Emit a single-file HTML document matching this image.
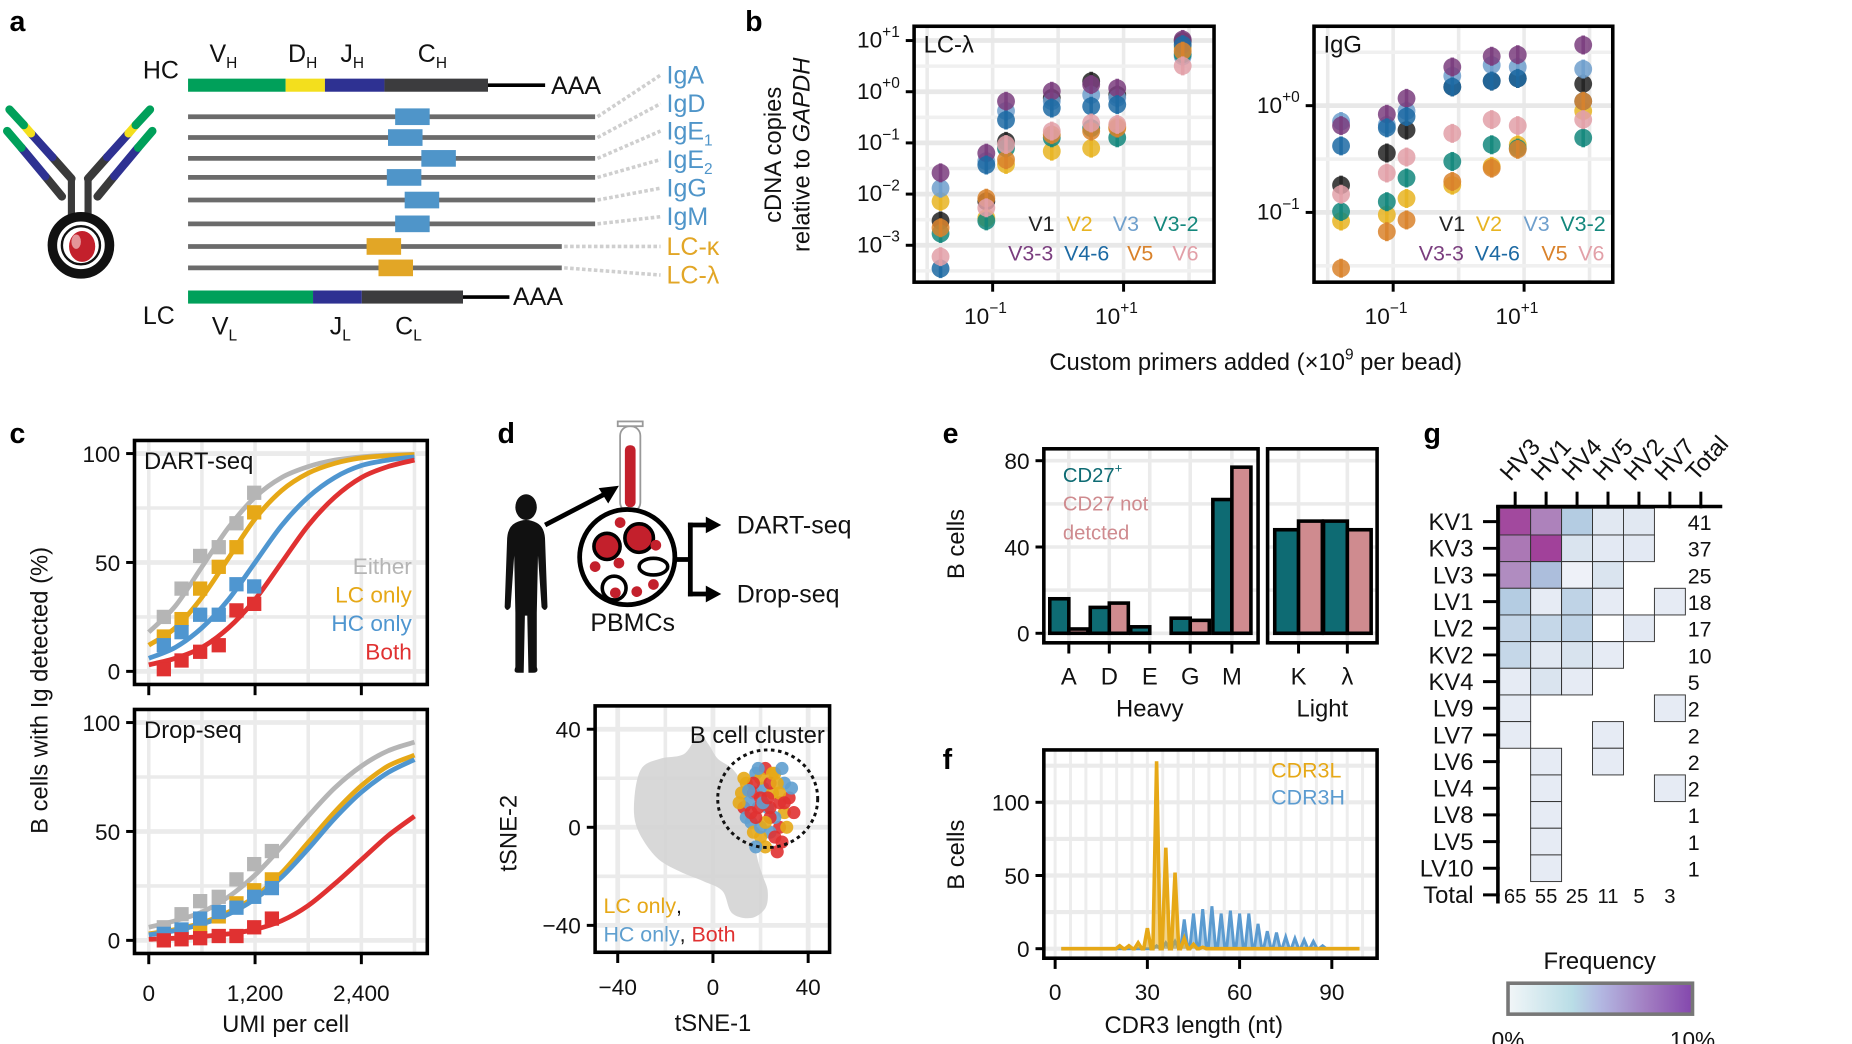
<!DOCTYPE html>
<html><head><meta charset="utf-8"><style>
html,body{margin:0;padding:0;background:#fff;}
svg{display:block;font-family:"Liberation Sans",Arial,sans-serif;fill:#111;font-size:19px;}
.h{font-size:24px;font-weight:bold;fill:#000;}
</style></head><body>
<svg id="fig" width="1852" height="1044" viewBox="0 0 1556 877" xmlns="http://www.w3.org/2000/svg">
<rect x="0" y="0" width="1556" height="877" fill="#fff"/>
<text class="h" x="8" y="26">a</text>
<text class="h" x="626" y="26">b</text>
<text class="h" x="8" y="372">c</text>
<text class="h" x="418" y="372">d</text>
<text class="h" x="792" y="372">e</text>
<text class="h" x="792" y="646">f</text>
<text class="h" x="1196" y="372">g</text>

<g id="pa">
<text class="t" x="120" y="66" font-size="21">HC</text>
<text class="t" x="176" y="52" font-size="21">V<tspan font-size="13" dy="5">H</tspan></text>
<text class="t" x="242" y="52" font-size="21">D<tspan font-size="13" dy="5">H</tspan></text>
<text class="t" x="286" y="52" font-size="21">J<tspan font-size="13" dy="5">H</tspan></text>
<text class="t" x="351" y="52" font-size="21">C<tspan font-size="13" dy="5">H</tspan></text>
<rect x="158" y="66" width="82" height="11" fill="#00a05a"/>
<rect x="240" y="66" width="33" height="11" fill="#f3df1d"/>
<rect x="273" y="66" width="50" height="11" fill="#2e3192"/>
<rect x="323" y="66" width="87" height="11" fill="#3c3c3e"/>
<line x1="410" y1="71.5" x2="458" y2="71.5" stroke="#000" stroke-width="3"/>
<text class="t" x="463" y="79" font-size="21">AAA</text>
<rect x="158" y="244" width="105" height="11" fill="#00a05a"/>
<rect x="263" y="244" width="41" height="11" fill="#2e3192"/>
<rect x="304" y="244" width="85" height="11" fill="#3c3c3e"/>
<line x1="389" y1="249.5" x2="428" y2="249.5" stroke="#000" stroke-width="3"/>
<text class="t" x="431" y="256" font-size="21">AAA</text>
<text class="t" x="120" y="272" font-size="21">LC</text>
<text class="t" x="178" y="281" font-size="21">V<tspan font-size="13" dy="5">L</tspan></text>
<text class="t" x="277" y="281" font-size="21">J<tspan font-size="13" dy="5">L</tspan></text>
<text class="t" x="332" y="281" font-size="21">C<tspan font-size="13" dy="5">L</tspan></text>
<g stroke-linecap="round" fill="none">
<line x1="60" y1="150" x2="60" y2="196" stroke="#3a3a3a" stroke-width="6"/>
<line x1="74" y1="150" x2="74" y2="196" stroke="#3a3a3a" stroke-width="6"/>
<polyline points="60,150 44,132" stroke="#3a3a3a" stroke-width="7"/>
<polyline points="44,132 26,112" stroke="#2e3192" stroke-width="7"/>
<polyline points="26,112 20,105" stroke="#f3df1d" stroke-width="7"/>
<polyline points="20,105 8,92" stroke="#00a05a" stroke-width="7"/>
<polyline points="52,165 38,148" stroke="#3a3a3a" stroke-width="7"/>
<polyline points="38,148 18,124" stroke="#2e3192" stroke-width="7"/>
<polyline points="18,124 6,110" stroke="#00a05a" stroke-width="7"/>
<polyline points="74,150 90,132" stroke="#3a3a3a" stroke-width="7"/>
<polyline points="90,132 108,112" stroke="#2e3192" stroke-width="7"/>
<polyline points="108,112 114,105" stroke="#f3df1d" stroke-width="7"/>
<polyline points="114,105 126,92" stroke="#00a05a" stroke-width="7"/>
<polyline points="82,165 96,148" stroke="#3a3a3a" stroke-width="7"/>
<polyline points="96,148 116,124" stroke="#2e3192" stroke-width="7"/>
<polyline points="116,124 128,110" stroke="#00a05a" stroke-width="7"/>
<circle cx="68" cy="206" r="24" stroke="#111" stroke-width="8" fill="#fff"/>
<circle cx="68" cy="206" r="16" stroke="#111" stroke-width="2"/>
<ellipse cx="69" cy="207" rx="11" ry="13" fill="#c3202c" stroke="none"/>
<ellipse cx="64" cy="203" rx="4" ry="6" fill="#f2c6c8" stroke="none" opacity="0.7"/>
</g>
</g>
<g id="pb"></g>
<g id="pc"></g>
<g id="pd">
<g fill="#111" transform="translate(442,426) scale(1,1.2) translate(-446,-456)">
<circle cx="446" cy="456" r="9"/>
<path d="M437,467 Q446,463 455,467 Q462,470 462,480 L464,526 Q462,530 459,526 L456,490 L455,530 L455,568 Q457,572 452,572 L448,572 L447,532 L445,532 L444,572 L439,572 Q435,572 437,568 L437,530 L436,490 L433,526 Q430,530 428,526 L430,480 Q430,470 437,467 Z"/>
</g>
<line x1="458" y1="441" x2="510" y2="414" stroke="#000" stroke-width="4"/>
<polygon points="520,408 503,410 511,423" fill="#000"/>
<rect x="521" y="358" width="17" height="72" rx="8" fill="#fff" stroke="#999" stroke-width="1.5"/>
<rect x="519" y="354" width="21" height="4" fill="#fff" stroke="#999" stroke-width="1.5"/>
<rect x="525" y="374" width="9" height="52" rx="4" fill="#c3202c"/>
<line x1="526" y1="428" x2="497" y2="446" stroke="#000" stroke-width="2.5" stroke-dasharray="2,2"/>
<line x1="533" y1="428" x2="560" y2="446" stroke="#000" stroke-width="2.5" stroke-dasharray="2,2"/>
<g>
<circle cx="527" cy="468" r="40" fill="#fff" stroke="#000" stroke-width="4"/>
<circle cx="510" cy="459" r="11" fill="#c3202c" stroke="#000" stroke-width="3"/>
<circle cx="537" cy="452" r="12" fill="#c3202c" stroke="#000" stroke-width="3"/>
<circle cx="516" cy="494" r="10" fill="none" stroke="#000" stroke-width="3"/>
<circle cx="517" cy="498" r="4.5" fill="#c3202c"/>
<circle cx="521" cy="439" r="4.5" fill="#c3202c"/>
<circle cx="551" cy="458" r="4.5" fill="#c3202c"/>
<circle cx="500" cy="476" r="4.5" fill="#c3202c"/>
<circle cx="520" cy="473" r="4.5" fill="#c3202c"/>
<circle cx="535" cy="497" r="4.5" fill="#c3202c"/>
<circle cx="549" cy="491" r="4.5" fill="#c3202c"/>
<ellipse cx="549" cy="476" rx="12" ry="7" fill="#fff" stroke="#000" stroke-width="3"/>
</g>
<polyline points="567,470 580,470" stroke="#000" stroke-width="4" fill="none"/>
<polyline points="580,439 580,501" stroke="#000" stroke-width="4" fill="none"/>
<polyline points="578,441 596,441" stroke="#000" stroke-width="4" fill="none"/>
<polyline points="578,499 596,499" stroke="#000" stroke-width="4" fill="none"/>
<polygon points="606,441 593,434 593,448" fill="#000"/>
<polygon points="606,499 593,492 593,506" fill="#000"/>
<text x="619" y="448" font-size="21">DART-seq</text>
<text x="619" y="506" font-size="21">Drop-seq</text>
<text x="496" y="530" font-size="21">PBMCs</text>
</g>
<g id="pe"></g>
<g id="pf"></g>
<g id="pg"></g>
</svg>
<script>
const NS='http://www.w3.org/2000/svg';
function mk(tag,attrs,parent){const e=document.createElementNS(NS,tag);for(const k in attrs)e.setAttribute(k,attrs[k]);parent.appendChild(e);return e;}
function txt(parent,x,y,s,attrs){const e=mk('text',Object.assign({x:x,y:y},attrs||{}),parent);e.textContent=s;return e;}

/* ===== Panel a data ===== */
const isoNames=['IgA','IgD','IgE','IgE','IgG','IgM','LC-κ','LC-λ'];
const isoSubs=['','','1','2','','','',''];
const isoLineY=[98,115.5,133,149,168,188,207,225];
const isoBoxX=[332,326,354,325,340,332,308,318];
const isoLineEnd=[500,500,500,500,500,500,472,472];
const isoLabelY=[70,94,117,141,165,189,214,238];
const pa=document.getElementById('pa');
isoNames.forEach(function(n,i){
  const col=i<6?'#4f95c9':'#e2a626';
  const l=mk('line',{x1:158,y1:isoLineY[i],x2:isoLineEnd[i],y2:isoLineY[i],stroke:'#6b6b6b','stroke-width':4},pa);
  
  
  const b=mk('rect',{x:isoBoxX[i],y:isoLineY[i]-7,width:29,height:14,fill:col},pa);
  
  
  const d=mk('line',{x1:isoLineEnd[i]+2,y1:isoLineY[i],x2:555,y2:isoLabelY[i]-7,stroke:'#cfcfcf','stroke-width':3,'stroke-dasharray':'3,2'},pa);
  
  
  const t=txt(pa,560,isoLabelY[i],n,{'font-size':21,fill:col});
  if(isoSubs[i]){const s=document.createElementNS(NS,'tspan');s.setAttribute('font-size','13');s.setAttribute('dy','5');s.textContent=isoSubs[i];t.appendChild(s);}
  
  
});

/* ===== Panel b data ===== */
const primerAmounts=[0.016,0.08,0.16,0.8,3.2,8,80];
const seriesNames=['V1','V2','V3','V3-2','V3-3','V4-6','V5','V6'];
const seriesColors=['#222222','#e8b422','#6f9fcc','#13877c','#7a3d7e','#1d6aa3','#d9822b','#e2a0a8'];
const lcV1=[0.003,0.0072,0.107,0.76,1.6,0.87,9.8];
const lcV2=[0.0072,0.0034,0.038,0.069,0.079,0.21,7.2];
const lcV3=[0.013,0.044,0.42,0.65,0.87,0.76,4.9];
const lcV32=[0.0017,0.003,0.079,0.126,0.195,0.126,5.4];
const lcV33=[0.026,0.063,0.65,1.02,1.38,1.17,10.5];
const lcV46=[0.00035,0.037,0.28,0.48,0.52,0.56,8.3];
const lcV5=[0.0022,0.0083,0.047,0.145,0.17,0.195,6.2];
const lcV6=[0.0006,0.0054,0.093,0.17,0.245,0.23,3.2];
const igV1=[0.18,0.36,0.59,1.5,1.7,1.8,1.6];
const igV2=[0.083,0.095,0.135,0.18,0.27,0.43,0.89];
const igV3=[0.71,0.66,0.89,1.9,2.4,2.3,2.2];
const igV32=[0.102,0.126,0.21,0.3,0.43,0.4,0.5];
const igV33=[0.65,0.83,1.17,2.3,2.9,3.0,3.7];
const igV46=[0.42,0.62,0.79,1.5,1.7,1.8,1.1];
const igV5=[0.03,0.066,0.085,0.195,0.26,0.39,1.1];
const igV6=[0.148,0.234,0.33,0.55,0.74,0.65,0.74];
const lcSeries=[lcV1,lcV2,lcV3,lcV32,lcV33,lcV46,lcV5,lcV6];
const igSeries=[igV1,igV2,igV3,igV32,igV33,igV46,igV5,igV6];
const pb=document.getElementById('pb');
function lg(v){return Math.log10(v);}
function drawLogPanel(box,xTick0,yOf,yTicks,series,title,legX1,legX2,name){
  const g=mk('g',{},pb);
  
  
  const xOf=function(v){return xTick0+(lg(v)+1)*55;};
  for(let e=-2;e<=2;e++){const x=xOf(Math.pow(10,e));if(x>box.x&&x<box.x+box.w){const gl=mk('line',{x1:x,y1:box.y,x2:x,y2:box.y+box.h,stroke:'#ebebeb','stroke-width':3},g);}}
  for(let e=-4;e<=2;e+=0.5){const y=yOf(Math.pow(10,e));if(y>box.y&&y<box.y+box.h){const gl=mk('line',{x1:box.x,y1:y,x2:box.x+box.w,y2:y,stroke:Number.isInteger(e)?'#e8e8e8':'#f0f0f0','stroke-width':Number.isInteger(e)?4:3},g);}}
  series.forEach(function(arr,si){arr.forEach(function(v,i){
    const cx=xOf(primerAmounts[i]),cy=yOf(v);
    const eb=mk('line',{x1:cx,y1:cy-8,x2:cx,y2:cy+8,stroke:seriesColors[si],'stroke-width':3,opacity:0.85},g);
    
    
    const c=mk('circle',{cx:cx,cy:cy,r:7.5,fill:seriesColors[si],opacity:0.85},g);
    
    
  });});
  const r=mk('rect',{x:box.x,y:box.y,width:box.w,height:box.h,fill:'none',stroke:'#000','stroke-width':3},g);
  
  
  yTicks.forEach(function(tk){const y=yOf(Math.pow(10,tk.e));
    const tl=mk('line',{x1:box.x-7,y1:y,x2:box.x,y2:y,stroke:'#000','stroke-width':2.5},g);
    
    
    const t=txt(g,box.x-12,y+6,'10',{'text-anchor':'end','font-size':19});
    const s=document.createElementNS(NS,'tspan');s.setAttribute('font-size','13');s.setAttribute('dy','-9');s.textContent=tk.l;t.appendChild(s);
    
    
  });
  [{e:-1,l:'−1'},{e:1,l:'+1'}].forEach(function(tk){const x=xOf(Math.pow(10,tk.e));
    const tl=mk('line',{x1:x,y1:box.y+box.h,x2:x,y2:box.y+box.h+8,stroke:'#000','stroke-width':2.5},g);
    
    
    const t=txt(g,x-6,box.y+box.h+35,'10',{'text-anchor':'middle','font-size':19});
    const s=document.createElementNS(NS,'tspan');s.setAttribute('font-size','13');s.setAttribute('dy','-9');s.textContent=tk.l;t.appendChild(s);
    
    
  });
  const tt=txt(g,box.x+8,box.y+22,title,{'font-size':20});
  
  
  seriesNames.forEach(function(n,i){const x=(i<4?legX1:legX2)[i%4];const y=i<4?194:219;
    const t=txt(g,x,y,n,{'font-size':18,fill:seriesColors[i]});
    
    
  });
}
drawLogPanel({x:768,y:22,w:252,h:215},834,function(v){return 34+(1-lg(v))*43;},
  [{e:1,l:'+1'},{e:0,l:'+0'},{e:-1,l:'−1'},{e:-2,l:'−2'},{e:-3,l:'−3'}],lcSeries,'LC-λ',
  [864,896,935,969],[847,894,947,985],'lc-lambda-plot');
drawLogPanel({x:1104,y:22,w:251,h:215},1170.5,function(v){return 88.7-lg(v)*89.7;},
  [{e:0,l:'+0'},{e:-1,l:'−1'}],igSeries,'IgG',
  [1209,1240,1280,1311],[1192,1239,1295,1326],'igg-plot');
(function(){
  const t=txt(pb,1055,311,'Custom primers added (×10',{'text-anchor':'middle','font-size':20});
  const s=document.createElementNS(NS,'tspan');s.setAttribute('font-size','13');s.setAttribute('dy','-9');s.textContent='9';t.appendChild(s);
  const s2=document.createElementNS(NS,'tspan');s2.setAttribute('dy','9');s2.textContent=' per bead)';t.appendChild(s2);
  
  
  const y1=txt(pb,0,0,'cDNA copies',{'text-anchor':'middle','font-size':20,transform:'translate(656,130) rotate(-90)'});
  
  
  const y2=txt(pb,0,0,'relative to ',{'text-anchor':'middle','font-size':20,transform:'translate(680,130) rotate(-90)'});
  const s3=document.createElementNS(NS,'tspan');s3.setAttribute('font-style','italic');s3.textContent='GAPDH';y2.appendChild(s3);
  
  
})();

/* ===== Panel c data ===== */
const curveUMI=[0,300,600,900,1200,1500,1800,2100,2400,2700,3000];
const dartEither=[18,30,48,66,80,89,94,97,98.5,99.3,99.7];
const dartLC=[12,20,34,52,70,83,91,95.5,98,99,99.5];
const dartHC=[6,11,20,33,50,67,80,89,94.5,97,98.5];
const dartBoth=[3,6,11,20,33,50,67,80,89,94,97];
const dropEither=[6,9,13,20,30,43,57,70,80,87,91];
const dropLC=[3,5,8,13,20,31,45,59,71,80,85];
const dropHC=[2.5,4.5,7.5,12,19,29,42,56,68,77,83];
const dropBoth=[0.5,1,1.8,3,5,9,16,26,37,48,57];
const dartBinUMI=[170,370,580,790,990,1190];
const dartPtsEither=[25,38,53,57,68,82];
const dartPtsLC=[16,24,38,48,57,73];
const dartPtsHC=[12,18,26,26,40,39];
const dartPtsBoth=[1,5,9,12,28,31];
const dropBinUMI=[170,370,580,790,990,1190,1390];
const dropPtsEither=[6,12,18,20,28,35,41];
const dropPtsLC=[2,4,6,11,17,23,28];
const dropPtsHC=[3,5,10,13,15,20,24];
const dropPtsBoth=[0,0.5,1,2,2,6,10];
const groupNames=['Either','LC only','HC only','Both'];
const groupColors=['#b5b5b5','#e6a817','#4f96d0','#e03131'];
const xTickUMI=[0,1200,2400];
const xTickUMILabels=['0','1,200','2,400'];
const pctTicks=[0,50,100];
const pc=document.getElementById('pc');
function cx(u){return 125+u/1200*89.3;}
function smoothPath(pts,closed){let d='M'+pts[0][0]+','+pts[0][1];const n=pts.length;const get=function(i){if(closed)return pts[(i+n)%n];return pts[Math.max(0,Math.min(n-1,i))];};const last=closed?n:n-1;
  for(let i=0;i<last;i++){const p0=get(i-1),p1=get(i),p2=get(i+1),p3=get(i+2);
  d+=' C'+(p1[0]+(p2[0]-p0[0])/6)+','+(p1[1]+(p2[1]-p0[1])/6)+' '+(p2[0]-(p3[0]-p1[0])/6)+','+(p2[1]-(p3[1]-p1[1])/6)+' '+p2[0]+','+p2[1];}return d+(closed?' Z':'');}
function drawCurvePanel(top,title,curves,bins,pts,name,showLabels,showLegend){
  const g=mk('g',{},pc);
  
  
  const box={x:113,y:top,w:246,h:205};
  const yOf=function(p){return top+11+(100-p)*1.83;};
  [0,600,1200,1800,2400,3000].forEach(function(u){const gl=mk('line',{x1:cx(u),y1:box.y,x2:cx(u),y2:box.y+box.h,stroke:'#ebebeb','stroke-width':3},g);});
  [0,25,50,75,100].forEach(function(p){const gl=mk('line',{x1:box.x,y1:yOf(p),x2:box.x+box.w,y2:yOf(p),stroke:'#ebebeb','stroke-width':p%50===0?4:3},g);});
  curves.forEach(function(c,ci){
    const p=mk('path',{d:smoothPath(curveUMI.map(function(u,i){return [cx(u),yOf(c[i])];}),false),fill:'none',stroke:groupColors[ci],'stroke-width':4},g);
    
    
  });
  pts.forEach(function(arr,ci){arr.forEach(function(v,i){
    const r=mk('rect',{x:cx(bins[i])-6,y:yOf(v)-6,width:12,height:12,fill:groupColors[ci]},g);
    
    
  });});
  const fr=mk('rect',{x:box.x,y:box.y,width:box.w,height:box.h,fill:'none',stroke:'#000','stroke-width':3},g);
  
  
  pctTicks.forEach(function(p){
    const tl=mk('line',{x1:box.x-7,y1:yOf(p),x2:box.x,y2:yOf(p),stroke:'#000','stroke-width':2.5},g);
    
    
    const t=txt(g,box.x-12,yOf(p)+7,String(p),{'text-anchor':'end','font-size':19});
    
    
  });
  xTickUMI.forEach(function(u,i){
    const tl=mk('line',{x1:cx(u),y1:box.y+box.h,x2:cx(u),y2:box.y+box.h+9,stroke:'#000','stroke-width':2.5},g);
    
    
    if(showLabels){const t=txt(g,cx(u),box.y+box.h+40,xTickUMILabels[i],{'text-anchor':'middle','font-size':19});
      
      }
  });
  const tt=txt(g,box.x+8,box.y+24,title,{'font-size':20});
  
  
  if(showLegend){groupNames.forEach(function(n,i){const t=txt(g,346,482+i*24,n,{'text-anchor':'end','font-size':19,fill:groupColors[i]});
    
    });}
}
drawCurvePanel(370,'DART-seq',[dartEither,dartLC,dartHC,dartBoth],dartBinUMI,[dartPtsEither,dartPtsLC,dartPtsHC,dartPtsBoth],'dart-seq-plot',false,true);
drawCurvePanel(596,'Drop-seq',[dropEither,dropLC,dropHC,dropBoth],dropBinUMI,[dropPtsEither,dropPtsLC,dropPtsHC,dropPtsBoth],'drop-seq-plot',true,false);
(function(){
  const t=txt(pc,240,867,'UMI per cell',{'text-anchor':'middle','font-size':20});
  
  
  const y=txt(pc,0,0,'B cells with Ig detected (%)',{'text-anchor':'middle','font-size':20,transform:'translate(40,580) rotate(-90)'});
  
  
})();

/* ===== Panel d tSNE data ===== */
const cloudX=[-33,-30,-22,-12,-6,-2,2,8,12,14,17,19,21,23,22,16,8,4,-4,-14,-24,-32];
const cloudY=[12,24,28,30,38,34,28,24,18,8,-4,-14,-20,-26,-33,-37,-35,-26,-22,-18,-12,0];
const bcX=[14,18,22,26,30,32,30,28,24,20,16,13,12,17,21,25,28,23,19,17,26,20,24,15,29,22,18,27,31,14,24,20,11,16,20,24,28,33,34,25,21,17,13,29,26,22,18,15,23,27,30,19];
const bcY=[18,22,24,22,18,12,6,0,-2,-4,2,8,14,14,16,14,10,8,8,-2,4,20,18,10,-6,-8,-8,-10,0,4,4,12,10,6,0,8,14,16,6,22,10,18,20,24,-4,2,4,15,12,18,10,24];
const bcGroup=[0,1,2,0,1,2,0,2,1,0,1,2,0,2,1,0,2,1,2,0,1,0,2,1,2,0,1,2,0,1,2,2,0,2,1,2,0,1,2,0,1,2,0,1,2,0,2,1,2,0,2,1];
const bcColors=['#e6a817','#5f9fcf','#e03131'];
const tsneTicks=[-40,0,40];
const pd=document.getElementById('pd');
function tx(v){return 599+v*2.0;}
function ty(v){return 695-v*2.06;}
(function(){
  const g=mk('g',{},pd);
  
  
  const box={x:500,y:593,w:197,h:207};
  [-40,-20,0,20,40].forEach(function(v){
    const a=mk('line',{x1:tx(v),y1:box.y,x2:tx(v),y2:box.y+box.h,stroke:'#ebebeb','stroke-width':v%40===0?4:3},g);
    
    
    const b=mk('line',{x1:box.x,y1:ty(v),x2:box.x+box.w,y2:ty(v),stroke:'#ebebeb','stroke-width':v%40===0?4:3},g);
    
    
  });
  const cl=mk('path',{d:smoothPath(cloudX.map(function(x,i){return [tx(x),ty(cloudY[i])];}),true),fill:'#d4d4d4',opacity:0.9},g);
  
  
  bcX.forEach(function(x,i){const c=mk('circle',{cx:tx(x),cy:ty(bcY[i]),r:5.5,fill:bcColors[bcGroup[i]],opacity:0.9},g);
    
    });
  const e=mk('ellipse',{cx:645,cy:671,rx:42,ry:41,fill:'none',stroke:'#111','stroke-width':2.5,'stroke-dasharray':'3,3'},g);
  
  
  const fr=mk('rect',{x:box.x,y:box.y,width:box.w,height:box.h,fill:'none',stroke:'#000','stroke-width':3},g);
  
  
  tsneTicks.forEach(function(v){
    const a=mk('line',{x1:tx(v),y1:box.y+box.h,x2:tx(v),y2:box.y+box.h+9,stroke:'#000','stroke-width':2.5},g);
    
    
    const t1=txt(g,tx(v),box.y+box.h+36,v<0?'−'+Math.abs(v):String(v),{'text-anchor':'middle','font-size':19});
    
    
    const b=mk('line',{x1:box.x-7,y1:ty(v),x2:box.x,y2:ty(v),stroke:'#000','stroke-width':2.5},g);
    
    
    const t2=txt(g,box.x-12,ty(v)+7,v<0?'−'+Math.abs(v):String(v),{'text-anchor':'end','font-size':19});
    
    
  });
  const t=txt(g,693,624,'B cell cluster',{'text-anchor':'end','font-size':20});
  
  
  const l1=txt(g,507,767,'LC only',{'font-size':18,fill:'#e6a817'});
  
  
  const c1=document.createElementNS(NS,'tspan');c1.setAttribute('fill','#111');c1.textContent=',';l1.appendChild(c1);
  const l2=txt(g,507,791,'HC only',{'font-size':18,fill:'#5f9fcf'});
  
  
  const c2=document.createElementNS(NS,'tspan');c2.setAttribute('fill','#111');c2.textContent=', ';l2.appendChild(c2);
  const c3=document.createElementNS(NS,'tspan');c3.setAttribute('fill','#e03131');c3.textContent='Both';l2.appendChild(c3);
  const xt=txt(g,599,866,'tSNE-1',{'text-anchor':'middle','font-size':20});
  
  
  const yt=txt(g,0,0,'tSNE-2',{'text-anchor':'middle','font-size':20,transform:'translate(434,700) rotate(-90)'});
  
  
})();

/* ===== Panel e data ===== */
const heavyCats=['A','D','E','G','M'];
const lightCats=['K','λ'];
const heavyCD27=[16,12,3,7,62];
const heavyNot=[2,14,0,6,77];
const lightCD27=[48,52];
const lightNot=[52,48];
const eTicks=[0,40,80];
const pe=document.getElementById('pe');
function ey(v){return 532-v*1.8125;}
(function(){
  const boxes=[{x:877,w:180,cats:heavyCats,a:heavyCD27,b:heavyNot,pos:[898,932,966,1000,1035]},{x:1065,w:92,cats:lightCats,a:lightCD27,b:lightNot,pos:[1091,1132]}];
  boxes.forEach(function(bx,bi){
    const g=mk('g',{},pe);
    
    
    bx.pos.forEach(function(p){const gl=mk('line',{x1:p,y1:377,x2:p,y2:540,stroke:'#ebebeb','stroke-width':3},g);});
    [0,20,40,60,80].forEach(function(v){const gl=mk('line',{x1:bx.x,y1:ey(v),x2:bx.x+bx.w,y2:ey(v),stroke:'#ebebeb','stroke-width':3},g);});
    bx.cats.forEach(function(c,i){
      const w=bi===0?16:20;
      const r1=mk('rect',{x:bx.pos[i]-w,y:ey(bx.a[i]),width:w,height:ey(0)-ey(bx.a[i]),fill:'#0e6b73',stroke:'#000','stroke-width':3},g);
      
      
      const r2=mk('rect',{x:bx.pos[i],y:ey(bx.b[i]),width:w,height:ey(0)-ey(bx.b[i]),fill:'#cf8b8f',stroke:'#000','stroke-width':3},g);
      
      
      const tl=mk('line',{x1:bx.pos[i],y1:540,x2:bx.pos[i],y2:549,stroke:'#000','stroke-width':2.5},g);
      
      
      const t=txt(g,bx.pos[i],575,c,{'text-anchor':'middle','font-size':20});
      
      
    });
    const fr=mk('rect',{x:bx.x,y:377,width:bx.w,height:163,fill:'none',stroke:'#000','stroke-width':3},g);
    
    
  });
  eTicks.forEach(function(v){
    const tl=mk('line',{x1:870,y1:ey(v),x2:877,y2:ey(v),stroke:'#000','stroke-width':2.5},pe);
    
    
    const t=txt(pe,865,ey(v)+7,String(v),{'text-anchor':'end','font-size':19});
    
    
  });
  const l1=txt(pe,893,405,'CD27',{'font-size':17,fill:'#0e6b73'});
  const sp=document.createElementNS(NS,'tspan');sp.setAttribute('font-size','11');sp.setAttribute('dy','-8');sp.textContent='+';l1.appendChild(sp);
  
  
  const l2=txt(pe,893,429,'CD27 not',{'font-size':17,fill:'#cf8b8f'});
  
  
  const l3=txt(pe,893,453,'detcted',{'font-size':17,fill:'#cf8b8f'});
  
  
  const h=txt(pe,966,602,'Heavy',{'text-anchor':'middle','font-size':20});
  
  
  const li=txt(pe,1111,602,'Light',{'text-anchor':'middle','font-size':20});
  
  
  const yt=txt(pe,0,0,'B cells',{'text-anchor':'middle','font-size':20,transform:'translate(810,457) rotate(-90)'});
  
  
})();

/* ===== Panel f data ===== */
const cdr3LPeakLen=[21,24,27,30,33,36,39,42,45,48];
const cdr3LPeakVal=[2,2,4,14,128,69,52,7,3,1];
const cdr3HPeakLen=[33,36,39,42,45,48,51,54,57,60,63,66,69,72,75,78,81,84,87];
const cdr3HPeakVal=[2,4,5,20,24,27,29,24,26,24,24,17,12,11,8,7,6,5,2];
const fXTicks=[0,30,60,90];
const fYTicks=[0,50,100];
const pf=document.getElementById('pf');
function fx(v){return 886.5+v*2.583;}
function fy(v){return 797-v*1.23;}
(function(){
  const g=mk('g',{},pf);
  
  
  for(let v=0;v<=105;v+=5){const x=fx(v);if(x>877&&x<1157){const gl=mk('line',{x1:x,y1:630,x2:x,y2:805,stroke:'#ededed','stroke-width':2.5},g);}}
  [0,25,50,75,100,125].forEach(function(v){const gl=mk('line',{x1:877,y1:fy(v),x2:1157,y2:fy(v),stroke:'#ebebeb','stroke-width':3.5},g);});
  function peaksPath(lens,vals){let d='M'+fx(2)+','+fy(0);lens.forEach(function(l,i){d+=' L'+fx(l-1.2)+','+fy(0)+' L'+fx(l)+','+fy(vals[i])+' L'+fx(l+1.2)+','+fy(0);});d+=' L'+fx(99)+','+fy(0);return d;}
  const ph=mk('path',{d:peaksPath(cdr3HPeakLen,cdr3HPeakVal),fill:'#6fa8d6','fill-opacity':0.6,stroke:'#5b9bd0','stroke-width':2.5},g);
  
  
  const pl=mk('path',{d:peaksPath(cdr3LPeakLen,cdr3LPeakVal),fill:'#e6a817','fill-opacity':0.5,stroke:'#e6a817','stroke-width':3},g);
  
  
  const fr=mk('rect',{x:877,y:630,width:280,height:175,fill:'none',stroke:'#000','stroke-width':3},g);
  
  
  fXTicks.forEach(function(v){
    const tl=mk('line',{x1:fx(v),y1:805,x2:fx(v),y2:814,stroke:'#000','stroke-width':2.5},g);
    
    
    const t=txt(g,fx(v),840,String(v),{'text-anchor':'middle','font-size':19});
    
    
  });
  fYTicks.forEach(function(v){
    const tl=mk('line',{x1:870,y1:fy(v),x2:877,y2:fy(v),stroke:'#000','stroke-width':2.5},g);
    
    
    const t=txt(g,865,fy(v)+7,String(v),{'text-anchor':'end','font-size':19});
    
    
  });
  const l1=txt(g,1068,653,'CDR3L',{'font-size':18,fill:'#e6a817'});
  
  
  const l2=txt(g,1068,676,'CDR3H',{'font-size':18,fill:'#5b9bd0'});
  
  
  const xt=txt(g,1003,868,'CDR3 length (nt)',{'text-anchor':'middle','font-size':20});
  
  
  const yt=txt(g,0,0,'B cells',{'text-anchor':'middle','font-size':20,transform:'translate(810,718) rotate(-90)'});
  
  
})();

/* ===== Panel g data ===== */
const hmRows=['KV1','KV3','LV3','LV1','LV2','KV2','KV4','LV9','LV7','LV6','LV4','LV8','LV5','LV10'];
const hmCols=['HV3','HV1','HV4','HV5','HV2','HV7'];
const hmFreq=[
[9.5,7,3,0.8,0.8,null],
[7.5,9.8,1.2,0.7,0.7,null],
[6.5,4.2,0.3,1.2,null,null],
[3,0.5,2.5,0.5,null,0.5],
[2.3,2.2,2.5,0,0.7,null],
[2.2,0.8,1.3,0.5,null,null],
[0.5,1.2,0.5,null,null,null],
[0.5,null,null,null,null,0.5],
[0.5,null,null,0.5,null,null],
[null,0.5,null,0.5,null,null],
[null,0.5,null,null,null,0.5],
[null,0.5,null,null,null,null],
[null,0.5,null,null,null,null],
[null,0.5,null,null,null,null]];
const hmRowTotals=[41,37,25,18,17,10,5,2,2,2,2,1,1,1];
const hmColTotals=[65,55,25,11,5,3];
const pg=document.getElementById('pg');
const scaleStops=[[0,[255,255,255]],[0.4,[232,236,245]],[1.2,[218,228,239]],[3,[180,204,226]],[4.5,[170,186,218]],[6.5,[176,140,192]],[8,[168,110,176]],[10,[160,60,152]]];
function hmColor(v){for(let i=0;i<scaleStops.length-1;i++){const a=scaleStops[i],b=scaleStops[i+1];if(v<=b[0]){const t=(v-a[0])/(b[0]-a[0]);return 'rgb('+a[1].map(function(c,k){return Math.round(c+(b[1][k]-c)*t);}).join(',')+')';}}return 'rgb(160,60,152)';}
(function(){
  const x0=1260,cw=26,y0=427,rh=22.4;
  const g=mk('g',{},pg);
  
  
  hmFreq.forEach(function(row,ri){row.forEach(function(v,ci){if(v===null)return;
    const r=mk('rect',{x:x0+ci*cw,y:y0+ri*rh,width:cw,height:rh,fill:hmColor(v),stroke:'#333','stroke-width':0.8},g);
    
    
  });});
  const av=mk('line',{x1:x0-1.5,y1:y0-2,x2:x0-1.5,y2:y0+15*rh-4,stroke:'#000','stroke-width':3},g);
  
  
  const ah=mk('line',{x1:x0-3,y1:y0-1.5,x2:x0+7*cw+5,y2:y0-1.5,stroke:'#000','stroke-width':3},g);
  
  
  hmRows.concat(['Total']).forEach(function(n,ri){const y=y0+ri*rh+rh/2;
    const tl=mk('line',{x1:x0-14,y1:y,x2:x0,y2:y,stroke:'#000','stroke-width':2.5},g);
    
    
    const t=txt(g,x0-22,y+7,n,{'text-anchor':'end','font-size':20});
    
    
  });
  hmCols.concat(['Total']).forEach(function(n,ci){const x=x0+ci*cw+cw/2;
    const tl=mk('line',{x1:x,y1:y0-14,x2:x,y2:y0,stroke:'#000','stroke-width':2.5},g);
    
    
    const t=txt(g,0,0,n,{'font-size':20,transform:'translate('+(x-4)+','+(y0-22)+') rotate(-48)'});
    
    
  });
  hmRowTotals.forEach(function(v,ri){
    const t=txt(g,x0+6*cw+2,y0+ri*rh+rh/2+7,String(v),{'font-size':18});
    
    
  });
  hmColTotals.forEach(function(v,ci){
    const t=txt(g,x0+ci*cw+cw/2,y0+14*rh+rh/2+7,String(v),{'font-size':17,'text-anchor':'middle'});
    
    
  });
  const defs=mk('defs',{},pg);
  const lgd=mk('linearGradient',{id:'freqGrad',x1:'0',x2:'1',y1:'0',y2:'0'},defs);
  [['0','#f2f6f8'],['0.35','#b9dde6'],['0.5','#b3b8e2'],['0.75','#a27ec2'],['1','#8447ad']].forEach(function(s){mk('stop',{offset:s[0],'stop-color':s[1]},lgd);});
  const fr=mk('rect',{x:1267,y:826,width:155,height:26,fill:'url(#freqGrad)',stroke:'#777','stroke-width':3},pg);
  
  
  const ft=txt(pg,1344,814,'Frequency',{'text-anchor':'middle','font-size':20});
  
  
  const f0=txt(pg,1267,880,'0%',{'text-anchor':'middle','font-size':19});
  
  
  const f1=txt(pg,1422,880,'10%',{'text-anchor':'middle','font-size':19});
  
  
})();
</script>
</body></html>
